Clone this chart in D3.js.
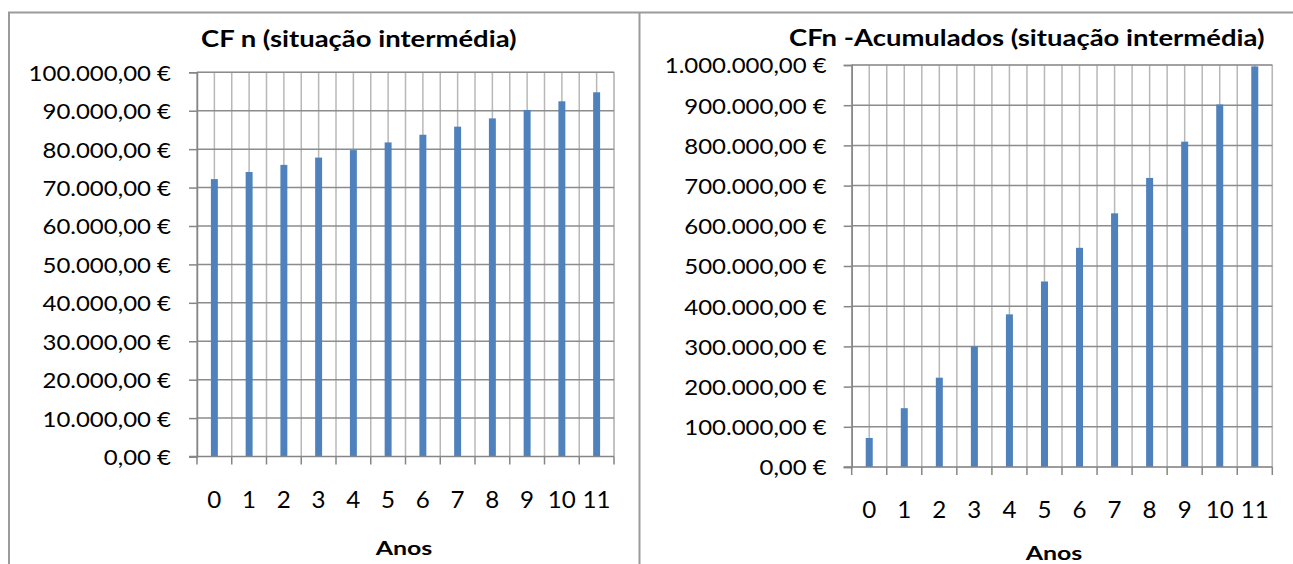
<!DOCTYPE html>
<html>
<head>
<meta charset="utf-8">
<script src="https://cdn.jsdelivr.net/npm/d3@7"></script>
<style>
  html, body { margin: 0; padding: 0; background: #fff; }
  svg { display: block; font-family: Lato, "Open Sans", sans-serif; }
</style>
</head>
<body>
<svg id="chart" width="1293" height="564"></svg>
<script>
// Years on the category axis
const anos = ["0", "1", "2", "3", "4", "5", "6", "7", "8", "9", "10", "11"];

// Annual cash flow (intermediate scenario), in euros
const cfAnual = [72200, 74050, 75900, 77800, 79750, 81750, 83750, 85850, 88000, 90200, 92450, 94800];

// Accumulated cash flow (intermediate scenario), in euros
const cfAcumulado = [72200, 146250, 222150, 299950, 379700, 461450, 545200, 631050, 719050, 809250, 901700, 996500];

// Value-axis ticks for each panel
const ticksAnual = [0, 10000, 20000, 30000, 40000, 50000, 60000, 70000, 80000, 90000, 100000];
const ticksAcumulado = [0, 100000, 200000, 300000, 400000, 500000, 600000, 700000, 800000, 900000, 1000000];

const titulos = ["CF n (situação intermédia)", "CFn -Acumulados (situação intermédia)"];
const tituloEixoX = "Anos";

const pt = d3.formatLocale({
  decimal: ",", thousands: ".", grouping: [3], currency: ["", " €"]
});
const euro = pt.format("$,.2f");

const svg = d3.select("#chart");

// widen glyphs horizontally by a factor, keeping the anchor
function alargar(sel, sx) {
  sel.each(function () {
    const w = this.getComputedTextLength();
    d3.select(this).attr("textLength", w * sx).attr("lengthAdjust", "spacingAndGlyphs");
  });
}

// Outer frame of the two chart areas
const frame = svg.append("g").attr("stroke", "#9b9b9b").attr("stroke-width", 2).attr("fill", "none");
frame.append("line").attr("x1", 8).attr("x2", 1293).attr("y1", 12.5).attr("y2", 12.5);
frame.append("line").attr("x1", 9).attr("x2", 9).attr("y1", 12).attr("y2", 564);
frame.append("line").attr("x1", 639.5).attr("x2", 639.5).attr("y1", 12).attr("y2", 564);

function painel(cfg) {
  const g = svg.append("g");
  const x = d3.scaleBand().domain(anos).range([cfg.left, cfg.right]).padding(0);
  const y = d3.scaleLinear().domain([0, d3.max(cfg.ticks)]).range([cfg.bottom, cfg.top]);
  const bw = x.bandwidth();

  // plot area border
  g.append("rect")
    .attr("x", cfg.left).attr("y", cfg.top)
    .attr("width", cfg.right - cfg.left).attr("height", cfg.bottom - cfg.top)
    .attr("fill", "none").attr("stroke", "#bdbdbd").attr("stroke-width", 1);

  // vertical gridlines: at category boundaries and at category centres
  const vx = [];
  anos.forEach(a => { vx.push(x(a)); vx.push(x(a) + bw / 2); });
  vx.push(cfg.right);
  g.append("g").selectAll("line").data(vx).join("line")
    .attr("x1", d => d).attr("x2", d => d)
    .attr("y1", cfg.top).attr("y2", cfg.bottom)
    .attr("stroke", "#b8b8b8").attr("stroke-width", 1.5);

  // horizontal major gridlines
  g.append("g").selectAll("line").data(cfg.ticks.slice(1)).join("line")
    .attr("x1", cfg.left).attr("x2", cfg.right)
    .attr("y1", d => y(d)).attr("y2", d => y(d))
    .attr("stroke", "#8c8c8c").attr("stroke-width", 1.5);

  // bars
  g.append("g").selectAll("rect").data(cfg.values).join("rect")
    .attr("x", (d, i) => x(anos[i]) + bw / 2 - bw * 0.1)
    .attr("width", bw * 0.2)
    .attr("y", d => y(d))
    .attr("height", d => cfg.bottom - y(d))
    .attr("fill", "#4f81bd");

  // value axis
  const yAxis = d3.axisLeft(y).tickValues(cfg.ticks).tickFormat(euro)
    .tickSize(8).tickPadding(cfg.pad);
  const ga = g.append("g").attr("transform", `translate(${cfg.left},0)`).call(yAxis);
  ga.select(".domain").attr("stroke", "#868686").attr("stroke-width", 1.5);
  ga.selectAll(".tick line").attr("stroke", "#868686").attr("stroke-width", 1.5);
  ga.selectAll(".tick text").attr("font-size", cfg.fs).attr("fill", "#000")
    .attr("font-family", "Lato, sans-serif").attr("dy", "0.36em")
    .call(alargar, 1.09);

  // category axis line and boundary tick marks
  g.append("line").attr("x1", cfg.left - 8).attr("x2", cfg.right)
    .attr("y1", cfg.bottom).attr("y2", cfg.bottom)
    .attr("stroke", "#868686").attr("stroke-width", 1.5);
  const bx = anos.map(a => x(a)).concat([cfg.right]);
  g.append("g").selectAll("line").data(bx).join("line")
    .attr("x1", d => d).attr("x2", d => d)
    .attr("y1", cfg.bottom).attr("y2", cfg.bottom + 8)
    .attr("stroke", "#868686").attr("stroke-width", 1.5);

  // category labels
  g.append("g").selectAll("text").data(anos).join("text")
    .attr("x", a => x(a) + bw / 2).attr("y", cfg.catY)
    .attr("text-anchor", "middle").attr("font-size", cfg.cfs).attr("fill", "#000")
    .text(a => a)
    .call(alargar, 1.05);

  // titles
  g.append("text").attr("x", cfg.titleX).attr("y", cfg.titleY)
    .attr("text-anchor", "start").attr("font-size", cfg.tfs).attr("font-weight", "bold")
    .text(cfg.title)
    .call(alargar, cfg.tsx);
  g.append("text").attr("x", cfg.axTitleX).attr("y", cfg.axTitleY)
    .attr("text-anchor", "middle").attr("font-size", cfg.afs).attr("font-weight", "bold")
    .text(tituloEixoX)
    .call(alargar, 1.28);
}

painel({
  values: cfAnual, ticks: ticksAnual, title: titulos[0],
  left: 197, right: 614, top: 72.3, bottom: 456.5,
  fs: 22, cfs: 23, tfs: 22.5, afs: 19.5, pad: 18, tsx: 1.22,
  catY: 508, titleX: 201, titleY: 47, axTitleX: 404, axTitleY: 555
});

painel({
  values: cfAcumulado, ticks: ticksAcumulado, title: titulos[1],
  left: 851.7, right: 1272.3, top: 65, bottom: 467,
  fs: 22, cfs: 23, tfs: 22.5, afs: 19.5, pad: 17, tsx: 1.22,
  catY: 518, titleX: 789, titleY: 46, axTitleX: 1054, axTitleY: 560
});
</script>
</body>
</html>
